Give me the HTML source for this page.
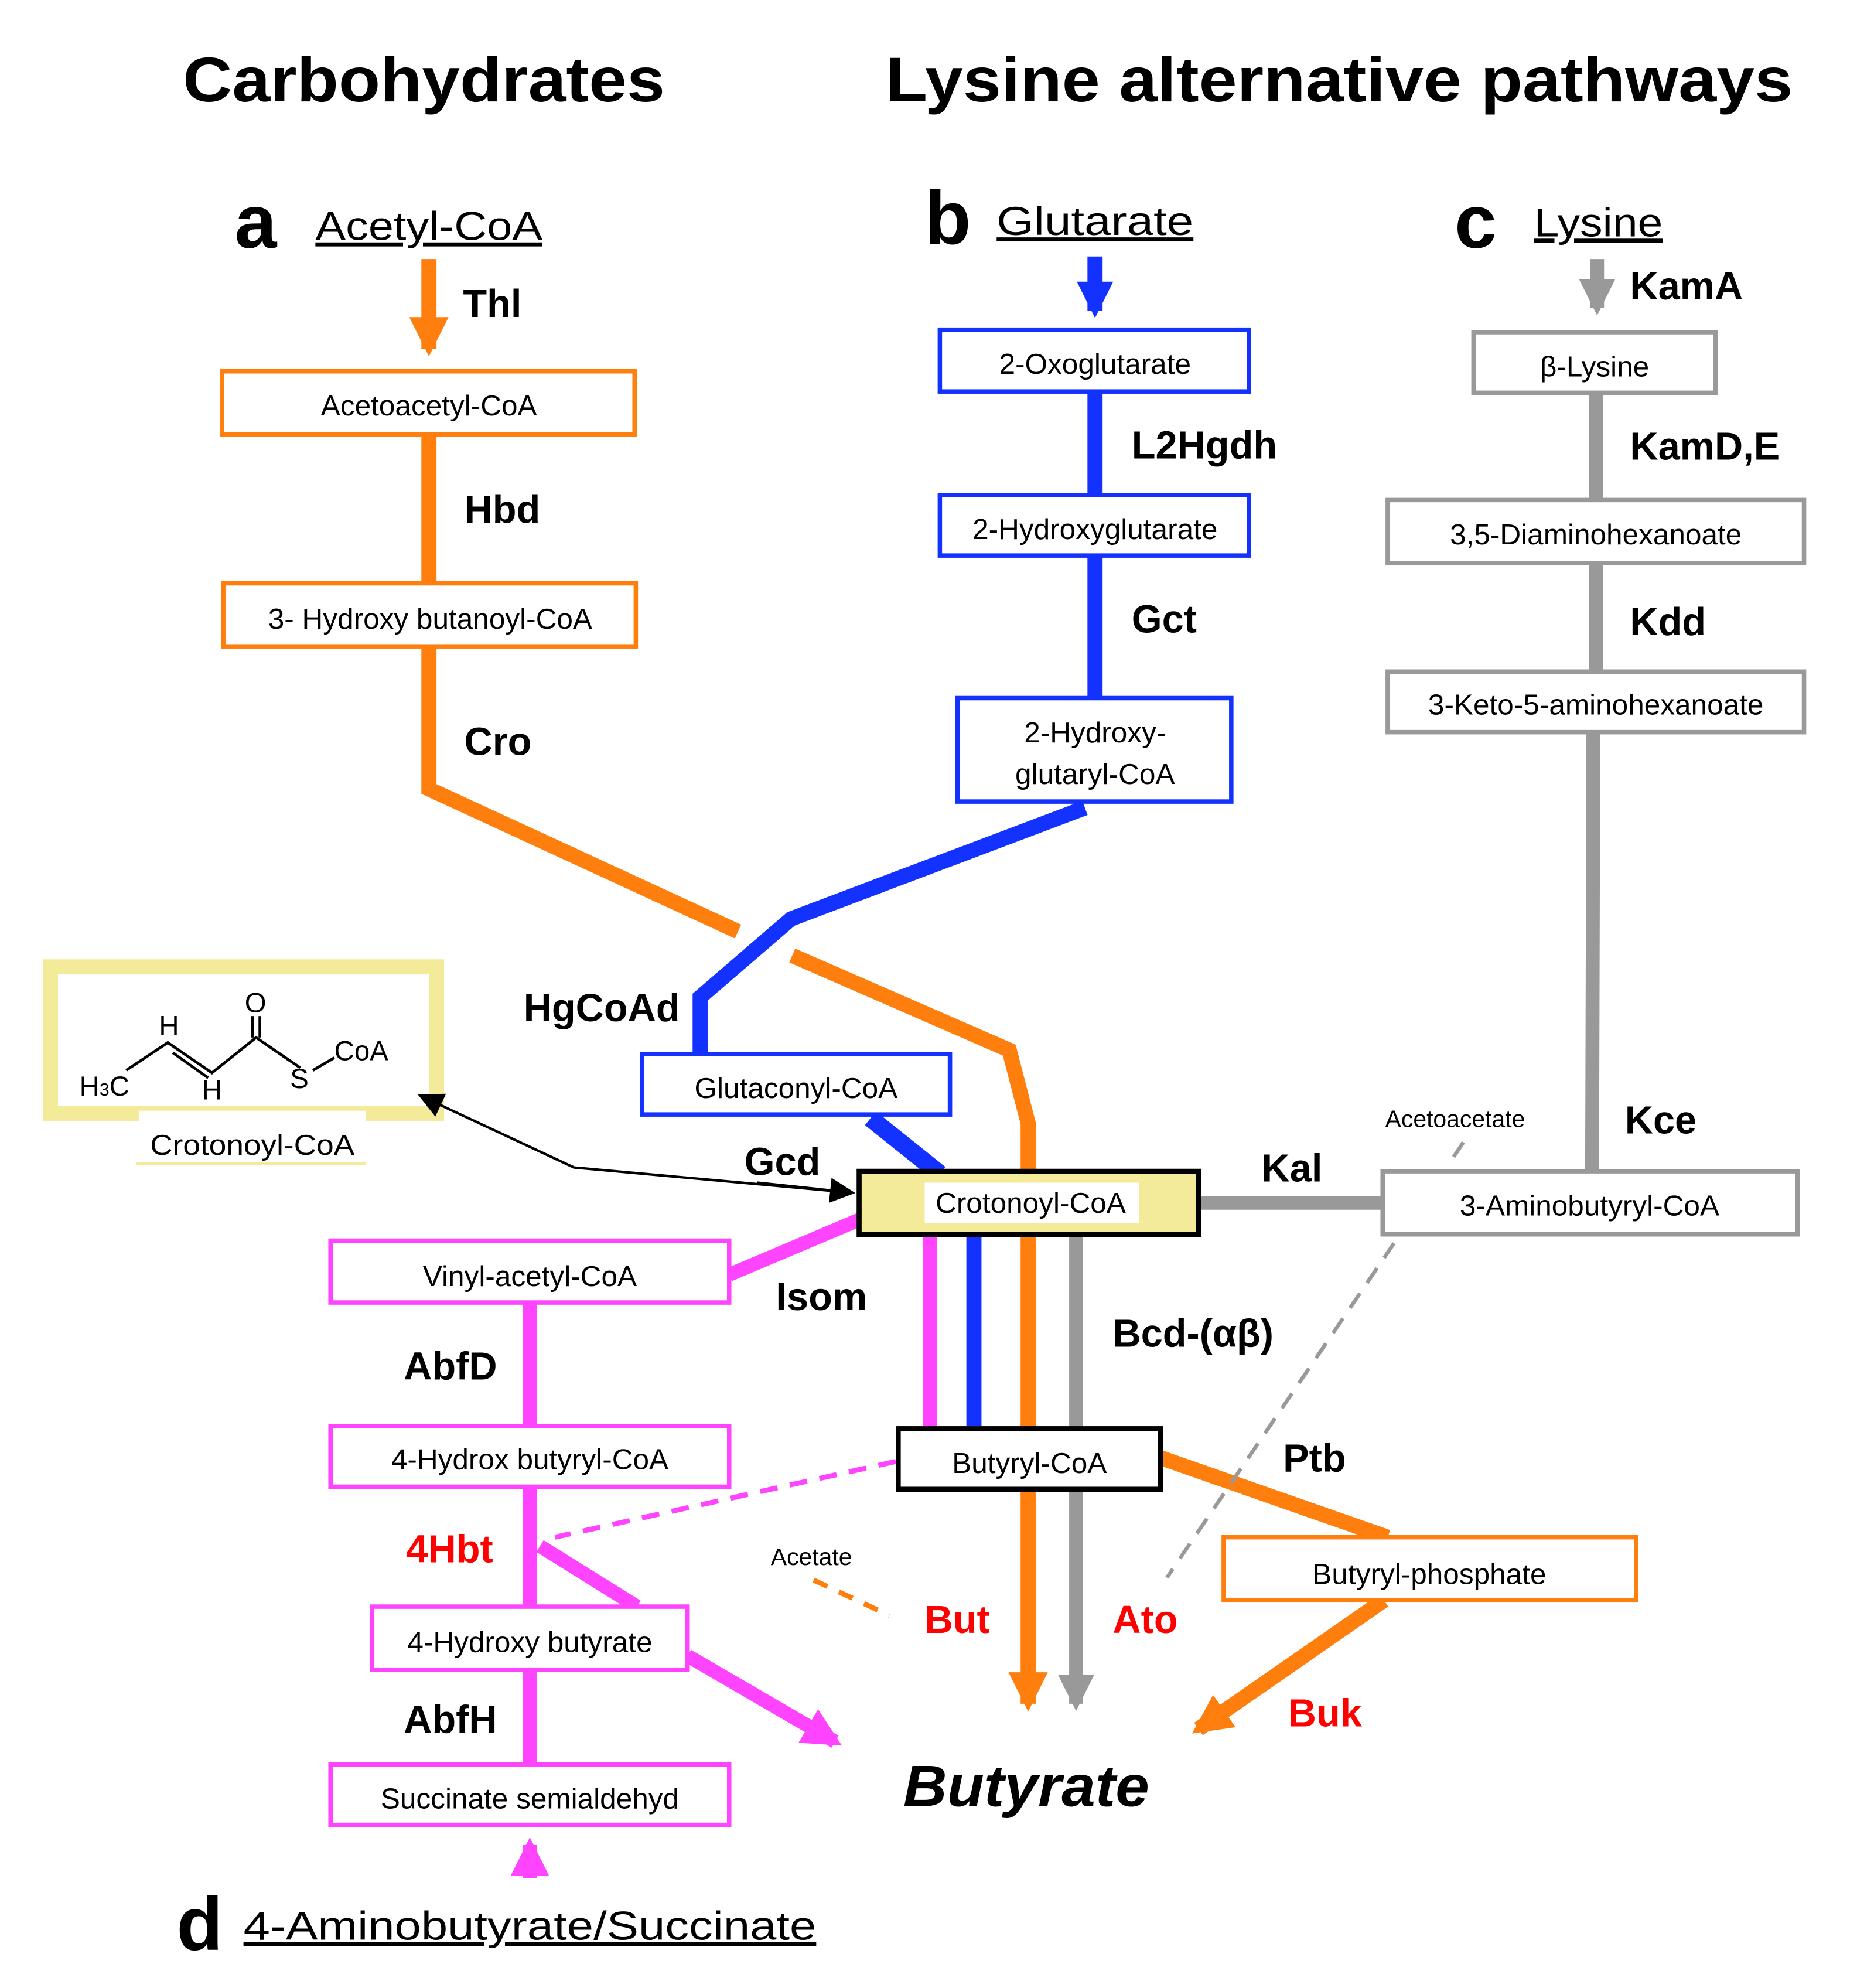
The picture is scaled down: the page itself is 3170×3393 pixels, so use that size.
<!DOCTYPE html>
<html><head><meta charset="utf-8"><style>html,body{margin:0;padding:0;background:#fff}svg{display:block}</style></head>
<body>
<svg width="3170" height="3393" viewBox="0 0 1472 1575" xmlns="http://www.w3.org/2000/svg" font-family="Liberation Sans, sans-serif">
<defs>
<marker id="ao" viewBox="0 0 10 10" refX="8" refY="5" markerWidth="2.6" markerHeight="2.6" orient="auto"><path d="M0,0L10,5L0,10z" fill="#ff7f0e"/></marker>
<marker id="ab" viewBox="0 0 10 10" refX="8" refY="5" markerWidth="2.4" markerHeight="2.4" orient="auto"><path d="M0,0L10,5L0,10z" fill="#1432ff"/></marker>
<marker id="ag" viewBox="0 0 10 10" refX="8" refY="5" markerWidth="2.6" markerHeight="2.6" orient="auto"><path d="M0,0L10,5L0,10z" fill="#999"/></marker>
<marker id="ap" viewBox="0 0 10 10" refX="8" refY="5" markerWidth="2.8" markerHeight="2.8" orient="auto"><path d="M0,0L10,5L0,10z" fill="#ff44ff"/></marker>
<marker id="ak" viewBox="0 0 10 10" refX="9" refY="5" markerWidth="12" markerHeight="10" orient="auto"><path d="M0,0L10,5L0,10z" fill="#000"/></marker>
</defs>
<g font-weight="bold" font-size="50">
<text x="145" y="80" textLength="382" lengthAdjust="spacingAndGlyphs">Carbohydrates</text>
<text x="702" y="80" textLength="719" lengthAdjust="spacingAndGlyphs">Lysine alternative pathways</text>
</g>
<g font-weight="bold" font-size="60">
<text x="186" y="196">a</text><text x="733" y="193">b</text><text x="1153" y="196">c</text><text x="140" y="1545">d</text>
</g>
<g font-size="32" text-decoration="underline">
<text x="250" y="190" textLength="180" lengthAdjust="spacingAndGlyphs">Acetyl-CoA</text>
<text x="790" y="186" textLength="156" lengthAdjust="spacingAndGlyphs">Glutarate</text>
<text x="1216" y="187" textLength="102" lengthAdjust="spacingAndGlyphs">Lysine</text>
<text x="193" y="1537" textLength="454" lengthAdjust="spacingAndGlyphs">4-Aminobutyrate/Succinate</text>
</g>
<!-- orange -->
<g fill="none" stroke="#ff7f0e" stroke-width="12">
<line x1="340" y1="205" x2="340" y2="276" marker-end="url(#ao)"/>
<line x1="340" y1="344" x2="340" y2="462"/>
<polyline points="340,512 340,625 585,738"/>
<polyline points="628,757 800,832 815,890 815,1350" marker-end="url(#ao)"/>
<line x1="920" y1="1155" x2="1100" y2="1218"/>
<line x1="1097" y1="1268" x2="950" y2="1370" marker-end="url(#ao)"/>
</g>
<line x1="645" y1="1252" x2="705" y2="1280" stroke="#ff7f0e" stroke-width="4" stroke-dasharray="12,10"/>
<!-- blue -->
<g fill="none" stroke="#1432ff" stroke-width="12">
<line x1="868" y1="203" x2="868" y2="246" marker-end="url(#ab)"/>
<line x1="868" y1="310" x2="868" y2="392"/>
<line x1="868" y1="440" x2="868" y2="553"/>
<polyline points="860,640 627,728 555,790 555,835"/>
<line x1="690" y1="886" x2="745" y2="930" stroke-width="14"/>
<line x1="772" y1="978" x2="772" y2="1130"/>
</g>
<!-- grey -->
<g fill="none" stroke="#999" stroke-width="11">
<line x1="1266" y1="205" x2="1266" y2="244" marker-end="url(#ag)"/>
<line x1="1265" y1="311" x2="1265" y2="396"/>
<line x1="1265" y1="446" x2="1265" y2="532"/>
<line x1="1263" y1="580" x2="1262" y2="928"/>
<line x1="952" y1="953" x2="1096" y2="953"/>
<line x1="853" y1="978" x2="853" y2="1350" marker-end="url(#ag)"/>
</g>
<g stroke="#999" stroke-width="3" stroke-dasharray="14,10">
<line x1="1160" y1="905" x2="1150" y2="920"/>
<line x1="1105" y1="985" x2="925" y2="1250"/>
</g>
<!-- pink -->
<g fill="none" stroke="#ff44ff" stroke-width="11">
<line x1="737" y1="978" x2="737" y2="1130"/>
<line x1="682" y1="966" x2="578" y2="1010"/>
<line x1="420" y1="1032" x2="420" y2="1130"/>
<line x1="420" y1="1178" x2="420" y2="1273"/>
<line x1="428" y1="1225" x2="505" y2="1273"/>
<line x1="545" y1="1312" x2="662" y2="1380" marker-end="url(#ap)"/>
<line x1="420" y1="1488" x2="420" y2="1462" marker-end="url(#ap)"/>
<line x1="420" y1="1323" x2="420" y2="1398"/>
</g>
<line x1="710" y1="1158" x2="440" y2="1218" stroke="#ff44ff" stroke-width="4" stroke-dasharray="14,10"/>
<!-- crotonoyl structure box -->
<rect x="40" y="766" width="306" height="116" fill="#fff" stroke="#f3ea9a" stroke-width="12"/>
<rect x="110" y="880" width="180" height="40" fill="#fff"/>
<line x1="108" y1="922" x2="290" y2="922" stroke="#f3ea9a" stroke-width="2"/>
<text x="200" y="915" font-size="23" text-anchor="middle" textLength="162" lengthAdjust="spacingAndGlyphs">Crotonoyl-CoA</text>
<g stroke="#000" stroke-width="2.2" fill="none">
<polyline points="100,848 133,826 168,850 203,822 238,846"/>
<line x1="137" y1="834" x2="165" y2="854"/>
<line x1="200" y1="805" x2="200" y2="822"/><line x1="206" y1="805" x2="206" y2="822"/>
<line x1="248" y1="848" x2="265" y2="838"/>
</g>
<g font-size="22">
<text x="63" y="868">H<tspan font-size="14">3</tspan>C</text>
<text x="126" y="820">H</text><text x="160" y="871">H</text>
<text x="194" y="802">O</text><text x="230" y="862">S</text><text x="265" y="840">CoA</text>
</g>
<polyline points="676,945 455,925 333,868" fill="none" stroke="#000" stroke-width="2" marker-end="url(#ak)"/>
<line x1="600" y1="937" x2="676" y2="945" stroke="#000" stroke-width="2" marker-end="url(#ak)"/>
<!-- boxes -->
<g fill="#fff" stroke-width="3.5">
<rect x="176" y="294" width="327" height="50" stroke="#ff7f0e"/>
<rect x="177" y="462" width="327" height="50" stroke="#ff7f0e"/>
<rect x="970" y="1218" width="327" height="50" stroke="#ff7f0e"/>
<rect x="745" y="261" width="245" height="49" stroke="#1432ff"/>
<rect x="745" y="392" width="245" height="48" stroke="#1432ff"/>
<rect x="759" y="553" width="217" height="82" stroke="#1432ff"/>
<rect x="509" y="835" width="244" height="48" stroke="#1432ff"/>
<rect x="1168" y="263" width="192" height="48" stroke="#999"/>
<rect x="1100" y="396" width="330" height="50" stroke="#999"/>
<rect x="1100" y="532" width="330" height="48" stroke="#999"/>
<rect x="1096" y="928" width="329" height="50" stroke="#999"/>
<rect x="262" y="983" width="316" height="49" stroke="#ff44ff"/>
<rect x="262" y="1130" width="316" height="48" stroke="#ff44ff"/>
<rect x="295" y="1273" width="250" height="50" stroke="#ff44ff"/>
<rect x="262" y="1398" width="316" height="48" stroke="#ff44ff"/>
<rect x="712" y="1132" width="208" height="48" stroke="#000" stroke-width="4"/>
<rect x="681" y="928" width="269" height="50" fill="#f3ea9a" stroke="#000" stroke-width="4"/>
</g>
<rect x="733" y="937" width="170" height="32" fill="#fff"/>
<g font-size="23" text-anchor="middle">
<text x="340" y="329">Acetoacetyl-CoA</text>
<text x="341" y="498">3- Hydroxy butanoyl-CoA</text>
<text x="1133" y="1255">Butyryl-phosphate</text>
<text x="868" y="296">2-Oxoglutarate</text>
<text x="868" y="427">2-Hydroxyglutarate</text>
<text x="868" y="588">2-Hydroxy-</text>
<text x="868" y="621">glutaryl-CoA</text>
<text x="631" y="870">Glutaconyl-CoA</text>
<text x="1264" y="298">β-Lysine</text>
<text x="1265" y="431">3,5-Diaminohexanoate</text>
<text x="1265" y="566">3-Keto-5-aminohexanoate</text>
<text x="1260" y="963">3-Aminobutyryl-CoA</text>
<text x="420" y="1019">Vinyl-acetyl-CoA</text>
<text x="420" y="1164">4-Hydrox butyryl-CoA</text>
<text x="420" y="1309">4-Hydroxy butyrate</text>
<text x="420" y="1433">Succinate semialdehyd</text>
<text x="816" y="1167">Butyryl-CoA</text>
<text x="817" y="961">Crotonoyl-CoA</text>
</g>
<g font-size="19"><text x="1098" y="893">Acetoacetate</text><text x="611" y="1240">Acetate</text></g>
<g font-weight="bold" font-size="31">
<text x="367" y="251">Thl</text><text x="368" y="414">Hbd</text><text x="368" y="598">Cro</text>
<text x="897" y="363">L2Hgdh</text><text x="897" y="501">Gct</text>
<text x="415" y="809">HgCoAd</text><text x="590" y="931">Gcd</text>
<text x="1292" y="237">KamA</text><text x="1292" y="364">KamD,E</text><text x="1292" y="503">Kdd</text>
<text x="1288" y="898">Kce</text><text x="1000" y="936">Kal</text>
<text x="615" y="1038">Isom</text><text x="320" y="1093">AbfD</text><text x="320" y="1373">AbfH</text>
<text x="882" y="1067">Bcd-(αβ)</text><text x="1017" y="1166">Ptb</text>
<g fill="#ff0000"><text x="322" y="1238">4Hbt</text><text x="733" y="1294">But</text><text x="882" y="1294">Ato</text><text x="1021" y="1368">Buk</text></g>
</g>
<text x="716" y="1431" font-weight="bold" font-style="italic" font-size="46" textLength="195" lengthAdjust="spacingAndGlyphs">Butyrate</text>
</svg>
</body></html>
